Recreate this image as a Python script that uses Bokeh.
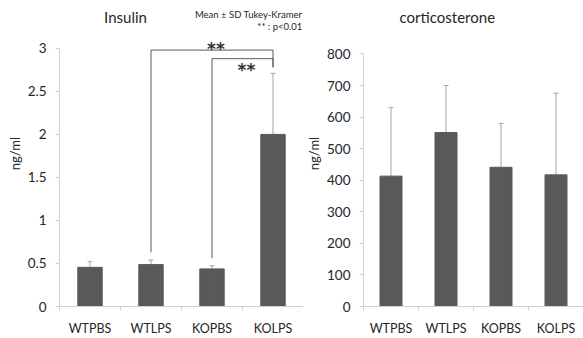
from bokeh.plotting import figure
from bokeh.layouts import row
from bokeh.models import (Range1d, FixedTicker, CustomJSTickFormatter, Whisker,
                          TeeHead, ColumnDataSource)
from bokeh.core.properties import value
from bokeh.embed import file_html
from bokeh.resources import INLINE

groups = ["WTPBS", "WTLPS", "KOPBS", "KOLPS"]
insulin_mean = [0.455, 0.487, 0.437, 2.0]
insulin_sd = [0.065, 0.053, 0.038, 0.71]
cort_mean = [413, 551, 441, 417]
cort_sd = [217, 149, 139, 259]
insulin_ticks = [0, 0.5, 1, 1.5, 2, 2.5, 3]
cort_ticks = [0, 100, 200, 300, 400, 500, 600, 700, 800]

# significance brackets (insulin): group index pairs
sig_from = [1, 2]
sig_to = [3, 3]
sig_top = [2.98, 2.88]
sig_from_bottom = [0.63, 0.56]
sig_to_bottom = [2.78, 2.78]
sig_text = ["**", "**"]
sig_text_y = [3.035, 2.8]

FONT = "Lato"
BAR = "#595959"
AXIS = "#d0d0d0"
TXT = "#262626"


def panel(means, sds, ticks, ymax, yend, width, bl, bb, label_standoff):
    p = figure(width=width, height=338, output_backend="svg", toolbar_location=None,
               title=None,
               x_range=Range1d(0, len(groups)), y_range=Range1d(0, yend),
               min_border_left=bl, min_border_right=0, min_border_top=0,
               min_border_bottom=bb)
    p.outline_line_color = None
    p.xgrid.visible = False
    p.ygrid.visible = False
    xs = [i + 0.5 for i in range(len(groups))]
    src = ColumnDataSource(dict(x=xs, top=means,
                                hi=[m + s for m, s in zip(means, sds)]))
    p.vbar(x="x", top="top", width=0.4, source=src, fill_color=BAR, line_color=BAR)
    w = Whisker(base="x", lower="top", upper="hi", source=src, line_color="#a6a6a6",
                line_width=1, upper_head=TeeHead(size=5, line_color="#a6a6a6", line_width=1),
                lower_head=None)
    p.add_layout(w)

    xa = p.xaxis[0]
    xa.ticker = FixedTicker(ticks=xs, minor_ticks=list(range(len(groups) + 1)))
    xa.formatter = CustomJSTickFormatter(args=dict(labels=groups),
                                         code="return labels[Math.floor(tick)];")
    xa.major_tick_line_color = None
    xa.minor_tick_line_color = AXIS
    xa.minor_tick_out = 4
    xa.minor_tick_in = 0
    xa.axis_line_color = AXIS
    xa.major_label_text_font = FONT
    xa.major_label_text_font_size = "12.5px"
    xa.major_label_text_color = TXT
    xa.major_label_standoff = 8

    ya = p.yaxis[0]
    ya.ticker = FixedTicker(ticks=ticks)
    ya.formatter = CustomJSTickFormatter(code="return String(tick);")
    ya.bounds = (0, ymax)
    ya.axis_line_color = AXIS
    ya.major_tick_line_color = AXIS
    ya.major_tick_out = 4
    ya.major_tick_in = 0
    ya.minor_tick_line_color = None
    ya.major_label_text_font = FONT
    ya.major_label_text_font_size = "13.5px"
    ya.major_label_text_color = TXT
    ya.major_label_standoff = 9
    ya.axis_label = "ng/ml"
    ya.axis_label_text_font = FONT
    ya.axis_label_text_font_style = "normal"
    ya.axis_label_text_font_size = "13px"
    ya.axis_label_text_color = TXT
    ya.axis_label_standoff = label_standoff
    return p


p1 = panel(insulin_mean, insulin_sd, insulin_ticks, 3, 3.556, 303, 59, 31, 2)
p2 = panel(cort_mean, cort_sd, cort_ticks, 800, 969.4, 280, 49, 29, 2)

# brackets
bx, by = [], []
for f, t, top, fb, tb in zip(sig_from, sig_to, sig_top, sig_from_bottom, sig_to_bottom):
    bx.append([f + 0.5, f + 0.5, t + 0.5, t + 0.5])
    by.append([fb, top, top, tb])
p1.multi_line(xs=bx, ys=by, line_color=BAR, line_width=1)
p1.text(x=[(f + t) / 2 + 0.5 for f, t in zip(sig_from, sig_to)], y=sig_text_y, text=sig_text,
        text_font=value("DejaVu Sans"), text_font_size="17px", text_font_style="bold",
        text_align="center", text_baseline="middle", text_color="#333333", x_offset=4,
        y_offset=4)

p1.text(x=[1.082], y=[3.359], text=["Insulin"], text_font=value(FONT),
        text_font_size="15px", text_color=TXT, text_align="center", text_baseline="middle")
p1.text(x=[3.98, 3.98], y=[3.394, 3.255], text=["Mean \u00b1 SD Tukey-Kramer", "** : p<0.01"],
        text_font=value(FONT), text_font_size="9.5px", text_color=TXT,
        text_align="right", text_baseline="middle")
p2.text(x=[1.524], y=[916], text=["corticosterone"], text_font=value(FONT),
        text_font_size="15px", text_color=TXT, text_align="center", text_baseline="middle")

layout = row(p1, p2)
open("out.html", "w").write(file_html(layout, INLINE))
